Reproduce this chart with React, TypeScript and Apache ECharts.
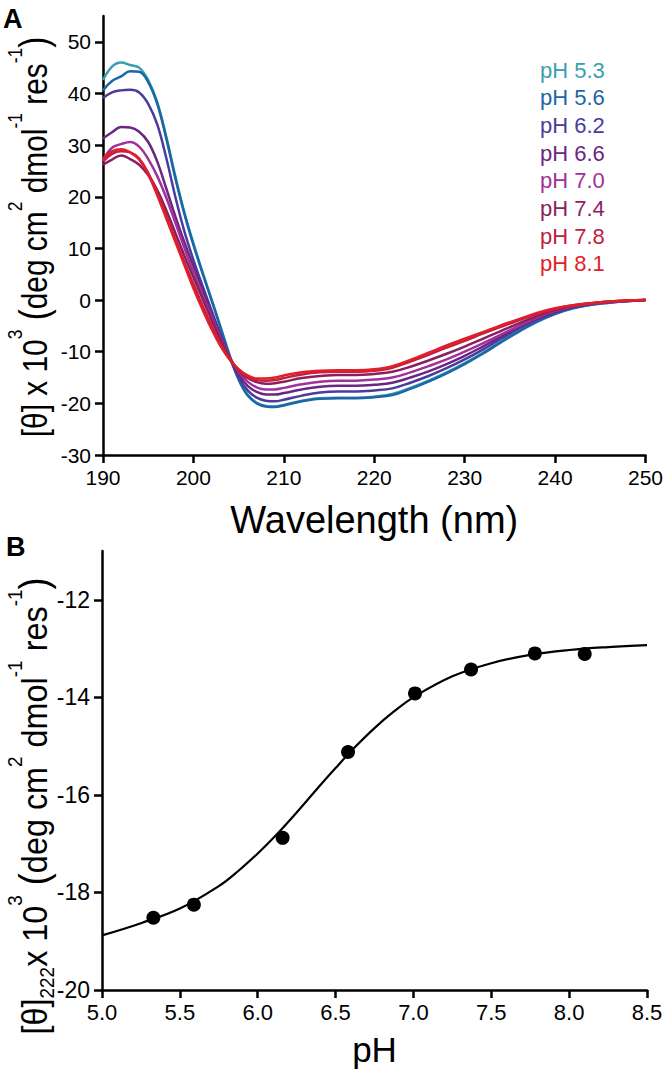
import React, { useEffect, useRef } from "react";
import * as echarts from "echarts";

const FONT = '"Liberation Sans", Arial, sans-serif';

// Panel A: CD spectra
const wavelengths = [190, 191, 192, 193, 194, 195, 196, 197, 198, 199, 200, 201, 202, 203, 204, 205, 206, 207, 208, 209, 210, 212, 214, 216, 218, 220, 222, 224, 226, 228, 230, 232, 234, 236, 238, 240, 242, 244, 246, 248, 250];

const ph53 = [42.6, 45.2, 46.0, 45.5, 45.0, 42.6, 38.3, 31.6, 24.0, 17.0, 11.0, 5.5, 0.2, -5.2, -10.6, -15.2, -18.3, -19.9, -20.5, -20.6, -20.3, -19.5, -19.0, -18.9, -18.9, -18.7, -18.2, -17.0, -15.6, -14.0, -12.2, -10.2, -8.0, -5.9, -4.1, -2.6, -1.5, -0.9, -0.5, -0.2, 0.0];
const ph56 = [40.6, 42.4, 43.3, 44.3, 44.2, 42.2, 38.0, 31.3, 23.6, 16.7, 10.7, 5.2, 0.0, -5.4, -10.8, -15.4, -18.5, -20.0, -20.6, -20.7, -20.4, -19.6, -19.1, -19.0, -19.0, -18.8, -18.4, -17.2, -15.8, -14.2, -12.4, -10.4, -8.2, -6.1, -4.2, -2.7, -1.6, -0.9, -0.5, -0.2, 0.0];
const ph62 = [39.1, 40.2, 40.6, 40.7, 40.2, 38.0, 34.0, 27.5, 20.0, 13.3, 7.8, 2.8, -2.0, -6.7, -11.1, -14.9, -17.5, -18.9, -19.5, -19.6, -19.3, -18.5, -17.9, -17.7, -17.7, -17.5, -17.1, -16.0, -14.7, -13.2, -11.5, -9.6, -7.5, -5.5, -3.8, -2.4, -1.4, -0.8, -0.4, -0.2, 0.0];
const ph66 = [31.3, 32.5, 33.5, 33.4, 32.6, 30.6, 26.8, 21.6, 16.2, 11.2, 6.6, 2.1, -2.5, -6.9, -11.1, -14.4, -16.6, -17.8, -18.3, -18.3, -18.0, -17.3, -16.8, -16.6, -16.6, -16.4, -16.0, -15.0, -13.8, -12.4, -10.8, -9.0, -7.1, -5.2, -3.6, -2.3, -1.3, -0.8, -0.4, -0.2, 0.0];
const ph70 = [27.1, 29.5, 30.2, 30.6, 29.7, 27.3, 24.0, 19.8, 15.0, 10.1, 5.4, 1.0, -3.2, -7.3, -11.1, -13.9, -15.8, -16.9, -17.3, -17.3, -17.0, -16.3, -15.8, -15.6, -15.6, -15.4, -15.0, -14.0, -12.8, -11.5, -10.0, -8.4, -6.7, -5.0, -3.4, -2.1, -1.2, -0.7, -0.4, -0.2, 0.0];
const ph74 = [26.2, 27.2, 28.0, 27.3, 26.2, 24.2, 21.3, 17.4, 13.0, 8.6, 4.4, 0.3, -3.8, -7.7, -11.2, -13.6, -15.1, -15.9, -16.2, -16.1, -15.8, -15.1, -14.7, -14.5, -14.5, -14.3, -13.9, -12.9, -11.7, -10.4, -9.0, -7.5, -6.0, -4.5, -3.1, -1.9, -1.1, -0.6, -0.3, -0.1, 0.0];
const ph78 = [26.8, 28.3, 28.8, 28.6, 27.4, 24.6, 20.8, 16.3, 11.8, 7.4, 3.1, -1.0, -4.9, -8.5, -11.4, -13.5, -14.9, -15.5, -15.6, -15.5, -15.1, -14.4, -14.0, -13.9, -13.9, -13.7, -13.1, -11.9, -10.6, -9.2, -7.9, -6.5, -5.2, -3.9, -2.7, -1.7, -1.0, -0.6, -0.3, -0.1, 0.0];
const ph81 = [27.4, 28.8, 29.2, 28.6, 27.2, 24.3, 20.3, 15.8, 11.3, 6.8, 2.3, -1.8, -5.6, -8.9, -11.5, -13.4, -14.6, -15.2, -15.2, -15.0, -14.6, -14.0, -13.7, -13.6, -13.6, -13.4, -12.8, -11.6, -10.2, -8.8, -7.5, -6.2, -4.9, -3.7, -2.5, -1.6, -1.0, -0.6, -0.3, -0.1, 0.0];

const spectraNames = ["pH 5.3", "pH 5.6", "pH 6.2", "pH 6.6", "pH 7.0", "pH 7.4", "pH 7.8", "pH 8.1"];
const spectraColors = ["#3a9fae", "#1b66a6", "#4a3b9d", "#6b2683", "#a2309b", "#8b1f5e", "#c2203f", "#e11f28"];
const spectra = [ph53, ph56, ph62, ph66, ph70, ph74, ph78, ph81];

// Panel B: ellipticity at 222 nm vs pH
const phPoints = [5.33, 5.59, 6.16, 6.58, 7.01, 7.37, 7.78, 8.10];
const theta222 = [-18.52, -18.25, -16.88, -15.12, -13.92, -13.43, -13.10, -13.11];
const fitPH = [5.0, 5.25, 5.5, 5.75, 5.875, 6.0, 6.125, 6.25, 6.375, 6.5, 6.625, 6.75, 6.875, 7.0, 7.25, 7.5, 7.75, 8.0, 8.25, 8.5];
const fitTheta = [-18.88, -18.63, -18.33, -17.87, -17.56, -17.2, -16.8, -16.36, -15.9, -15.45, -15.02, -14.63, -14.29, -14.0, -13.57, -13.3, -13.13, -13.03, -12.97, -12.93];

const axisBase = {
  axisLine: { onZero: false, lineStyle: { color: "#000", width: 2.5 } },
  axisTick: { length: 8, lineStyle: { color: "#000", width: 2.5 } },
  splitLine: { show: false },
};

const yTitleRich = (fs: number, ss: number) => ({
  m: { fontSize: fs, fontFamily: FONT, fill: "#000", lineHeight: fs + 4 },
  p: { fontSize: fs + 4, fontFamily: FONT, fill: "#000", lineHeight: fs + 4 },
  s: { fontSize: ss, fontFamily: FONT, fill: "#000", lineHeight: ss, padding: [0, 0, 38, 0] },
  b: { fontSize: ss, fontFamily: FONT, fill: "#000", lineHeight: ss, padding: [26, 0, 0, 0] },
});

export default function App() {
  const ref = useRef<HTMLDivElement>(null);
  useEffect(() => {
    if (!ref.current) return;
    const chart = echarts.init(ref.current, undefined, { renderer: "svg" });
    const lineSeries = spectra.map((vals, i) => ({
      name: spectraNames[i],
      type: "line",
      xAxisIndex: 0,
      yAxisIndex: 0,
      data: wavelengths.map((w, j) => [w, vals[j]]),
      showSymbol: false,
      smooth: 0.4,
      lineStyle: { color: spectraColors[i], width: 2.5 },
      itemStyle: { color: spectraColors[i] },
    }));
    chart.setOption({
      animation: false,
      textStyle: { fontFamily: FONT },
      grid: [
        { left: 103, right: 19, top: 16, height: 439 },
        { left: 102, right: 19, top: 551, height: 439 },
      ],
      legend: {
        orient: "vertical",
        left: 529,
        top: 54,
        itemWidth: 0,
        itemHeight: 0,
        itemGap: 5.7,
        selectedMode: false,
        textStyle: { fontSize: 22, lineHeight: 22, fontFamily: FONT },
        data: spectraNames.map((n, i) => ({ name: n, textStyle: { color: spectraColors[i] } })),
      },
      xAxis: [
        {
          ...axisBase,
          type: "value",
          gridIndex: 0,
          min: 190,
          max: 250,
          interval: 10,
          axisLabel: { fontSize: 21, color: "#000", margin: 12, fontFamily: FONT },
          name: "Wavelength (nm)",
          nameLocation: "middle",
          nameGap: 46,
          nameTextStyle: { fontSize: 38, color: "#000", fontFamily: FONT },
        },
        {
          ...axisBase,
          type: "value",
          gridIndex: 1,
          min: 5,
          max: 8.5,
          interval: 0.5,
          axisLabel: { fontSize: 22, color: "#000", margin: 11, fontFamily: FONT, formatter: (v: number) => v.toFixed(1) },
          name: "pH",
          nameLocation: "middle",
          nameGap: 42,
          nameTextStyle: { fontSize: 35, color: "#000", fontFamily: FONT },
        },
      ],
      yAxis: [
        {
          ...axisBase,
          type: "value",
          gridIndex: 0,
          min: -30,
          max: 55,
          interval: 10,
          axisLabel: { fontSize: 21, color: "#000", margin: 12, fontFamily: FONT, showMaxLabel: false },
        },
        {
          ...axisBase,
          type: "value",
          gridIndex: 1,
          min: -20,
          max: -11,
          interval: 2,
          axisLabel: { fontSize: 23, color: "#000", margin: 12, fontFamily: FONT, showMaxLabel: false },
        },
      ],
      graphic: [
        { type: "text", left: 3, top: 5, style: { text: "A", fontSize: 27, fontWeight: "bold", fontFamily: FONT, fill: "#000" } },
        { type: "text", left: 6, top: 533, style: { text: "B", fontSize: 27, fontWeight: "bold", fontFamily: FONT, fill: "#000" } },
        {
          type: "text",
          x: 34,
          y: 237,
          rotation: Math.PI / 2,
          scaleX: 0.83,
          style: {
            text: "{m|[θ] x 10}{s|3}{p| (}{m|deg cm}{s|2}{m| dmol}{s|-1}{m| res}{s|-1}{p|)}",
            align: "center",
            verticalAlign: "middle",
            rich: yTitleRich(36, 21),
          },
        },
        {
          type: "text",
          x: 34,
          y: 806,
          rotation: Math.PI / 2,
          scaleX: 0.9,
          style: {
            text: "{m|[θ]}{b|222}{m|x 10}{s|3}{p| (}{m|deg cm}{s|2}{m| dmol}{s|-1}{m| res}{s|-1}{p|)}",
            align: "center",
            verticalAlign: "middle",
            rich: yTitleRich(36, 21),
          },
        },
      ],
      series: [
        ...lineSeries,
        {
          name: "fit",
          type: "line",
          xAxisIndex: 1,
          yAxisIndex: 1,
          data: fitPH.map((p, i) => [p, fitTheta[i]]),
          smooth: 0.4,
          showSymbol: false,
          lineStyle: { color: "#000", width: 2.2 },
          itemStyle: { color: "#000" },
        },
        {
          name: "data",
          type: "scatter",
          xAxisIndex: 1,
          yAxisIndex: 1,
          data: phPoints.map((p, i) => [p, theta222[i]]),
          symbolSize: 14,
          itemStyle: { color: "#000", opacity: 1 },
        },
      ],
    });
    return () => chart.dispose();
  }, []);
  return <div ref={ref} style={{ width: 666, height: 1069, position: "absolute", left: 0, top: 0 }} />;
}
